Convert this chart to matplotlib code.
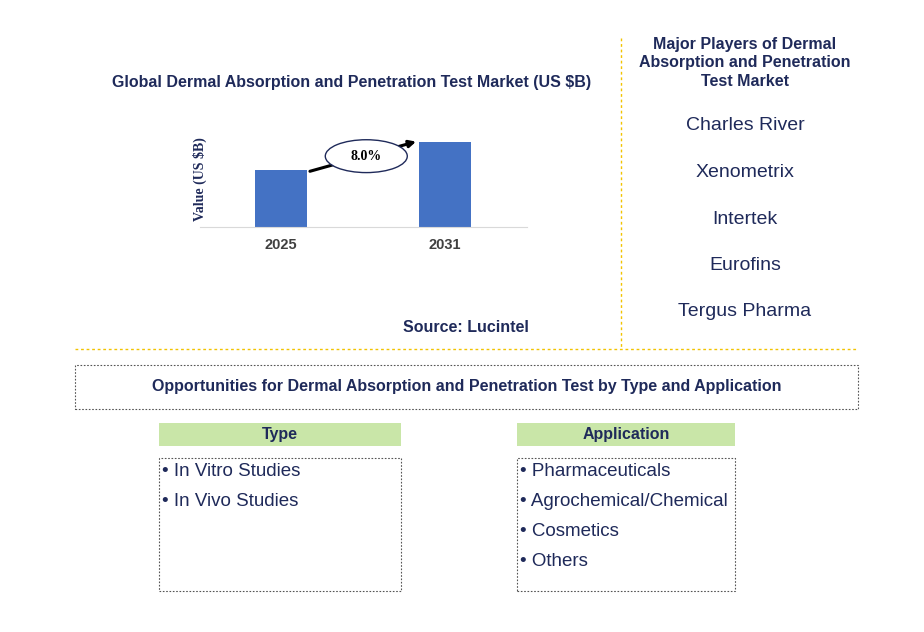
import matplotlib.pyplot as plt
from matplotlib.patches import Rectangle, Ellipse
from matplotlib.lines import Line2D

plt.rcParams["font.family"] = "Liberation Sans"

W, H = 924, 632
navy = "#1F2A5A"
bar_color = "#4472C4"
gold = "#F2C300"

years = ["2025", "2031"]
values = [1.0, 1.5]
cagr = "8.0%"
players = ["Charles River", "Xenometrix", "Intertek", "Eurofins", "Tergus Pharma"]
types = ["In Vitro Studies", "In Vivo Studies"]
applications = ["Pharmaceuticals", "Agrochemical/Chemical", "Cosmetics", "Others"]

fig = plt.figure(figsize=(W / 100, H / 100), dpi=100)


def fx(x):
    return x / W


def fy(y):
    return 1 - y / H


def text(x, y, s, **kw):
    kw.setdefault("color", navy)
    kw.setdefault("ha", "center")
    kw.setdefault("va", "center")
    fig.text(fx(x), fy(y), s, **kw)


def rect(x0, y0, x1, y1, **kw):
    fig.patches.append(Rectangle((fx(x0), fy(y1)), fx(x1 - x0), (y1 - y0) / H,
                                 transform=fig.transFigure, **kw))


def line(x0, y0, x1, y1, **kw):
    fig.lines.append(Line2D([fx(x0), fx(x1)], [fy(y0), fy(y1)], transform=fig.transFigure, **kw))


# bar chart
ax = fig.add_axes([fx(200), fy(227), fx(327), 107 / H])
ax.bar(range(len(years)), values, width=0.32, color=bar_color)
ax.set_xlim(-0.494, 1.5)
ax.set_ylim(0, 1.5 * 107 / 85)
ax.set_xticks(range(len(years)))
ax.set_xticklabels(years, fontsize=10.5, fontweight="bold", color="#404040")
ax.set_yticks([])
for s in ["top", "right", "left"]:
    ax.spines[s].set_visible(False)
ax.spines["bottom"].set_color("#D9D9D9")
ax.tick_params(axis="x", length=0, pad=8)
ax.set_ylabel("Value (US $B)", fontsize=10, fontweight="bold", color=navy,
              fontfamily="Liberation Serif", labelpad=-12)
ax.yaxis.set_label_coords(0.02, 0.45)
ax.annotate("", xy=(0.84, values[1] + 0.02), xytext=(0.16, values[0] - 0.03),
            arrowprops=dict(arrowstyle="-|>", color="black", lw=2.2), zorder=3)
ell = Ellipse((0.52, 1.25), 0.5, 0.58, facecolor="white", edgecolor=navy, lw=1, zorder=4)
ax.add_patch(ell)
ax.text(0.52, 1.25, cagr, ha="center", va="center", fontsize=10, fontweight="bold",
        fontfamily="Liberation Serif", zorder=5)

text(352, 82, "Global Dermal Absorption and Penetration Test Market (US $B)",
     fontsize=11.5, fontweight="bold")
text(466, 328, "Source: Lucintel", fontsize=11.5, fontweight="bold")

# players
line(621, 38, 621, 348, color=gold, lw=1, ls=(0, (2, 2)))
text(745, 63, "Major Players of Dermal\nAbsorption and Penetration\nTest Market",
     fontsize=11.5, fontweight="bold", linespacing=1.3)
for i, p in enumerate(players):
    text(745, 126 + i * 46.5, p, fontsize=14)

line(75, 349, 858, 349, color=gold, lw=1, ls=(0, (2, 2)))

# opportunities
rect(75, 365, 858, 409, facecolor="none", edgecolor="#555555", lw=0.8, ls=(0, (1.5, 1.5)))
text(467, 387, "Opportunities for Dermal Absorption and Penetration Test by Type and Application",
     fontsize=11.5, fontweight="bold")

for x0, x1, title, items in [(159, 401, "Type", types), (517, 735, "Application", applications)]:
    rect(x0, 423, x1, 446, facecolor="#C9E6A8", edgecolor="none")
    text((x0 + x1) / 2, 435, title, fontsize=11.5, fontweight="bold")
    rect(x0, 458, x1, 591, facecolor="none", edgecolor="#555555", lw=0.8, ls=(0, (1.5, 1.5)))
    for i, it in enumerate(items):
        text(x0 + 3, 472 + i * 30, "\u2022 " + it, fontsize=13.5, ha="left")

fig.savefig("out.png", dpi=100)
